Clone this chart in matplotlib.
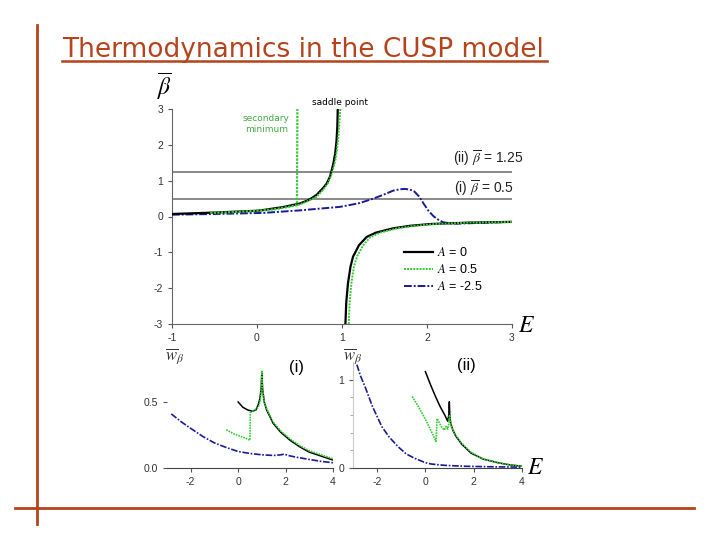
import matplotlib
matplotlib.use("Agg")
import matplotlib.pyplot as plt
from matplotlib.lines import Line2D

plt.rcParams["axes.unicode_minus"] = False
plt.rcParams["mathtext.fontset"] = "stix"

W, H = 720, 540
ORANGE = "#B5431C"
GREEN = "#33CC33"
BLUE = "#1A1A9A"
GRAY = "#808080"

# ---- top panel data (E, beta_bar) ----
a0_up_E = [-1.0, -0.5, 0.0, 0.07, 0.3, 0.5, 0.6, 0.7, 0.78, 0.82, 0.86, 0.88, 0.9, 0.92, 0.935, 0.945, 0.95]
a0_up_b = [0.07, 0.11, 0.16, 0.18, 0.26, 0.36, 0.45, 0.6, 0.8, 0.92, 1.12, 1.3, 1.5, 1.76, 2.1, 2.5, 3.0]
a0_lo_E = [1.04, 1.05, 1.07, 1.1, 1.13, 1.2, 1.29, 1.4, 1.6, 1.8, 2.04, 2.5, 3.0]
a0_lo_b = [-3.0, -2.4, -1.87, -1.4, -1.12, -0.8, -0.57, -0.45, -0.33, -0.26, -0.21, -0.17, -0.15]

a5_up1_E = [-0.55, -0.3, 0.0, 0.2, 0.4, 0.47, 0.475]
a5_up1_b = [0.1, 0.12, 0.16, 0.2, 0.28, 0.32, 3.0]
a5_up2_E = [0.48, 0.6, 0.7, 0.78, 0.84, 0.88, 0.92, 0.94, 0.96, 0.97, 0.98]
a5_up2_b = [0.32, 0.43, 0.55, 0.75, 0.95, 1.2, 1.55, 1.85, 2.3, 2.65, 3.0]
a5_lo_E = [1.08, 1.09, 1.11, 1.14, 1.18, 1.25, 1.33, 1.45, 1.65, 1.85, 2.1, 2.5, 3.0]
a5_lo_b = [-3.0, -2.4, -1.87, -1.4, -1.1, -0.8, -0.58, -0.45, -0.33, -0.26, -0.21, -0.17, -0.15]

am_E = [-1.0, -0.5, 0.07, 0.5, 0.98, 1.2, 1.37, 1.5, 1.6, 1.68, 1.74, 1.8, 1.85, 1.91, 1.96, 2.02, 2.08, 2.14, 2.19, 2.27, 2.35, 2.6, 3.0]
am_b = [0.05, 0.07, 0.1, 0.17, 0.27, 0.37, 0.5, 0.62, 0.72, 0.76, 0.77, 0.75, 0.7, 0.55, 0.36, 0.15, 0.0, -0.1, -0.16, -0.19, -0.2, -0.18, -0.15]

beta_lines = [1.25, 0.5]
beta_labels = [r"(ii) $\overline{\beta}$ = 1.25", r"(i) $\overline{\beta}$ = 0.5"]

# ---- bottom panel (i) data (E, w_beta) ----
i_a0_E = [0.0, 0.2, 0.4, 0.6, 0.75, 0.85, 0.92, 0.97, 1.0, 1.03, 1.1, 1.2, 1.47, 1.8, 2.19, 2.6, 3.0, 3.5, 4.0]
i_a0_w = [0.5, 0.46, 0.44, 0.43, 0.44, 0.48, 0.53, 0.6, 0.72, 0.6, 0.5, 0.44, 0.34, 0.27, 0.21, 0.16, 0.12, 0.09, 0.06]
i_a5_E = [-0.5, -0.2, 0.1, 0.4, 0.5, 0.51, 0.7, 0.85, 0.92, 0.97, 1.0, 1.03, 1.1, 1.2, 1.47, 1.8, 2.19, 2.6, 3.0, 3.5, 4.0]
i_a5_w = [0.29, 0.26, 0.24, 0.22, 0.21, 0.42, 0.44, 0.46, 0.5, 0.58, 0.74, 0.6, 0.5, 0.45, 0.35, 0.28, 0.22, 0.17, 0.13, 0.1, 0.07]
i_am_E = [-2.82, -2.4, -2.0, -1.5, -1.0, -0.5, 0.0, 0.5, 1.0, 1.5, 1.8, 1.95, 2.1, 2.5, 3.0, 3.5, 4.0]
i_am_w = [0.41, 0.35, 0.3, 0.24, 0.19, 0.155, 0.125, 0.11, 0.1, 0.095, 0.1, 0.105, 0.095, 0.08, 0.065, 0.05, 0.04]

# ---- bottom panel (ii) data ----
ii_a0_E = [0.0, 0.2, 0.4, 0.6, 0.8, 0.92, 0.97, 0.99, 1.01, 1.05, 1.15, 1.26, 1.5, 1.88, 2.4, 3.0, 3.5, 4.0]
ii_a0_w = [1.09, 0.95, 0.82, 0.7, 0.6, 0.53, 0.6, 0.75, 0.6, 0.5, 0.42, 0.36, 0.27, 0.17, 0.1, 0.06, 0.035, 0.02]
ii_a5_E = [-0.55, -0.3, 0.0, 0.2, 0.44, 0.48, 0.6, 0.7, 0.78, 0.86, 0.92, 0.97, 1.0, 1.03, 1.1, 1.26, 1.5, 1.88, 2.4, 3.0, 3.5, 4.0]
ii_a5_w = [0.81, 0.7, 0.55, 0.44, 0.3, 0.56, 0.5, 0.45, 0.43, 0.47, 0.44, 0.5, 0.6, 0.52, 0.45, 0.37, 0.28, 0.18, 0.1, 0.06, 0.035, 0.02]
ii_am_E = [-2.84, -2.7, -2.5, -2.2, -1.81, -1.5, -1.13, -0.8, -0.45, 0.0, 0.24, 0.8, 1.6, 2.5, 3.2, 4.0]
ii_am_w = [1.17, 1.05, 0.92, 0.7, 0.47, 0.35, 0.24, 0.16, 0.11, 0.06, 0.045, 0.03, 0.02, 0.015, 0.012, 0.01]

fig = plt.figure(figsize=(W / 100, H / 100), dpi=100)


def fx(px):
    return px / W


def fy(py):
    return 1 - py / H


def axes_px(l, t, r, b):
    return fig.add_axes([fx(l), fy(b), fx(r) - fx(l), fy(t) - fy(b)])


# ---- slide decoration ----
fig.add_artist(Line2D([fx(37), fx(37)], [fy(25), fy(524)], color=ORANGE, lw=2))
fig.add_artist(Line2D([fx(15), fx(694)], [fy(508), fy(508)], color=ORANGE, lw=2))
fig.text(fx(62), fy(57), "Thermodynamics in the CUSP model", color=ORANGE,
         fontsize=19, family="DejaVu Sans", ha="left", va="baseline")
fig.add_artist(Line2D([fx(62), fx(547)], [fy(60.5), fy(60.5)], color=ORANGE, lw=1.8))

tick_kw = dict(labelsize=7.5, labelcolor="#333333", colors="#555555", length=3, width=0.8)
SANS = "Liberation Sans"

# ---- top panel ----
ax = axes_px(172, 109, 512, 324)
ax.plot(a0_up_E, a0_up_b, color="black", lw=1.6, zorder=4)
ax.plot(a0_lo_E, a0_lo_b, color="black", lw=1.6, zorder=4)
ax.plot(a5_up1_E, a5_up1_b, color=GREEN, lw=1.6, ls=(0, (1, 0.6)), zorder=5)
ax.plot(a5_up2_E, a5_up2_b, color=GREEN, lw=1.4, ls=(0, (1, 0.6)), zorder=5)
ax.plot(a5_lo_E, a5_lo_b, color=GREEN, lw=1.4, ls=(0, (1, 0.6)), zorder=5)
ax.plot(am_E, am_b, color=BLUE, lw=1.4, ls=(0, (4, 1, 1, 1)), zorder=3)
label_pos = [(3.13, 1.25 + 0.36), (3.02, 0.5 + 0.28)]
for bl, lab, (lx, ly) in zip(beta_lines, beta_labels, label_pos):
    ax.axhline(bl, color=GRAY, lw=1.3, zorder=2)
    ax.text(lx, ly, lab, ha="right", va="center", fontsize=10, color="#222222",
            family=SANS, clip_on=False)
ax.set_xlim(-1, 3)
ax.set_ylim(-3, 3)
ax.set_xticks([-1, 0, 1, 2, 3])
ax.set_yticks([-3, -2, -1, 0, 1, 2, 3])
ax.tick_params(**tick_kw)
for s in ["top", "right"]:
    ax.spines[s].set_visible(False)
for s in ["left", "bottom"]:
    ax.spines[s].set_color("#666666")
    ax.spines[s].set_linewidth(0.8)
leg_handles = [Line2D([], [], color="black", lw=1.6),
               Line2D([], [], color=GREEN, lw=1.4, ls=(0, (1, 0.6))),
               Line2D([], [], color=BLUE, lw=1.4, ls=(0, (4, 1, 1, 1)))]
ax.legend(leg_handles, [r"$A$ = 0", r"$A$ = 0.5", r"$A$ = -2.5"], loc="upper left",
          bbox_to_anchor=(0.665, 0.39), frameon=False, prop={"family": SANS, "size": 9},
          handlelength=2.3, handletextpad=0.3, labelspacing=0.3, borderpad=0)
fig.text(fx(165), fy(95), r"$\overline{\beta}$", fontsize=17, ha="center", va="baseline")
fig.text(fx(527), fy(332), r"$E$", fontsize=17, ha="center", va="baseline")
ax.text(0.65, 3.05, "saddle point", fontsize=6.5, ha="left", va="bottom", color="black")
ax.text(0.11, 2.85, "secondary\nminimum", fontsize=6.5, ha="center", va="top", color="#44AA44",
        linespacing=1.3)
for lab in ax.get_xticklabels() + ax.get_yticklabels():
    lab.set_family(SANS)

# ---- bottom panel (i) ----
b1 = axes_px(167, 369, 333, 468)
b1.plot(i_am_E, i_am_w, color=BLUE, lw=1.2, ls=(0, (4, 1, 1, 1)))
b1.plot(i_a0_E, i_a0_w, color="black", lw=1.1)
b1.plot(i_a5_E, i_a5_w, color=GREEN, lw=1.2, ls=(0, (1, 0.6)))
b1.set_xlim(-3, 4)
b1.set_ylim(0, 0.75)
b1.set_xticks([-2, 0, 2, 4])
b1.set_yticks([0.0, 0.5])
b1.set_yticklabels(["0.0", "0.5"])
b1.tick_params(**tick_kw)
for s in ["top", "right", "left"]:
    b1.spines[s].set_visible(False)
b1.spines["bottom"].set_color("#444444")
for lab in b1.get_xticklabels() + b1.get_yticklabels():
    lab.set_family(SANS)
fig.text(fx(296), fy(372), "(i)", fontsize=12, ha="center", va="baseline", family=SANS)
fig.text(fx(175), fy(360), r"$\overline{w}_{\beta}$", fontsize=12, ha="center", va="baseline",
         color="#333333")

# ---- bottom panel (ii) ----
b2 = axes_px(353, 362, 522, 468)
b2.plot(ii_am_E, ii_am_w, color=BLUE, lw=1.2, ls=(0, (4, 1, 1, 1)))
b2.plot(ii_a0_E, ii_a0_w, color="black", lw=1.1)
b2.plot(ii_a5_E, ii_a5_w, color=GREEN, lw=1.2, ls=(0, (1, 0.6)))
b2.set_xlim(-3, 4)
b2.set_ylim(0, 1.2)
b2.set_xticks([-2, 0, 2, 4])
b2.set_yticks([0, 1])
b2.set_yticks([0.2, 0.4, 0.6, 0.8], minor=True)
b2.tick_params(**tick_kw)
b2.tick_params(axis="y", which="minor", length=2, colors="#999999")
for s in ["top", "right"]:
    b2.spines[s].set_visible(False)
b2.spines["left"].set_color("#cccccc")
b2.spines["bottom"].set_color("#444444")
for lab in b2.get_xticklabels() + b2.get_yticklabels():
    lab.set_family(SANS)
fig.text(fx(466), fy(370), "(ii)", fontsize=12, ha="center", va="baseline", family=SANS)
fig.text(fx(353), fy(360), r"$\overline{w}_{\beta}$", fontsize=12, ha="center", va="baseline",
         color="#333333")
fig.text(fx(536), fy(474), r"$E$", fontsize=17, ha="center", va="baseline")

fig.savefig("out.png", dpi=100)
